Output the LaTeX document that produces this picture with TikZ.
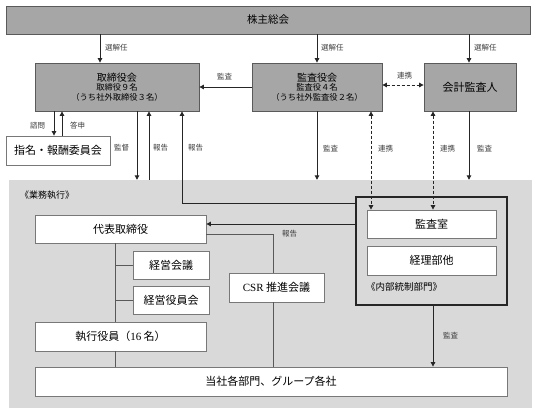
\documentclass[tikz,border=0pt]{standalone}
\usepackage{fontspec}
\setmainfont{Noto Sans CJK JP}
\newfontfamily\latinserif{Liberation Serif}
\usetikzlibrary{arrows.meta}
\definecolor{boxgray}{RGB}{166,166,166}
\definecolor{areagray}{RGB}{217,217,217}
\definecolor{edgegray}{RGB}{90,90,90}
\definecolor{wedge}{RGB}{120,120,120}
\definecolor{lblcol}{RGB}{60,60,60}
\begin{document}
\begin{tikzpicture}[x=1pt,y=-1pt,
  gbox/.style={draw=edgegray, fill=boxgray, inner sep=0pt, line width=0.8pt, align=center},
  wbox/.style={draw=wedge, fill=white, inner sep=0pt, line width=0.8pt, align=center, font=\fontsize{11}{13}\selectfont},
  areabox/.style={fill=areagray, draw=none, inner sep=0pt},
  ctrlbox/.style={draw=black!85, line width=1.1pt, inner sep=0pt},
  arr/.style={-{Triangle[length=4.5pt,width=4.5pt]}, line width=0.9pt, draw=black!85},
  darr/.style={{Triangle[length=4.5pt,width=4.5pt]}-{Triangle[length=4.5pt,width=4.5pt]}, line width=0.9pt, draw=black!85, dash pattern=on 3pt off 2pt},
  plain/.style={line width=0.8pt, draw=black!65},
  lbl/.style={font=\fontsize{7.5}{9}\selectfont, text=lblcol, inner sep=0pt, anchor=west}
]
\useasboundingbox (0,0) rectangle (536,415);
\fill[white] (0,0) rectangle (536,415);
% execution area
\node[areabox, minimum width=523pt, minimum height=228pt] (area) at (270.5,294) {};
\node[anchor=west, inner sep=0pt, font=\fontsize{9}{11}\selectfont] (gyomu) at (20,195) {《業務執行》};

% top boxes
\node[gbox, minimum width=524pt, minimum height=28pt, font=\fontsize{10.5}{12}\selectfont] (kabu) at (268,20) {株主総会};
\node[gbox, minimum width=164pt, minimum height=48pt, font=\fontsize{8.3}{9.8}\selectfont] (tori) at (117,87)
  {{\fontsize{10}{10}\selectfont 取締役会}\\取締役９名\\（うち社外取締役３名）};
\node[gbox, minimum width=130pt, minimum height=48pt, font=\fontsize{8.3}{9.8}\selectfont] (kansa) at (317,87)
  {{\fontsize{10}{10}\selectfont 監査役会}\\監査役４名\\（うち社外監査役２名）};
\node[gbox, minimum width=92pt, minimum height=48pt, font=\fontsize{11}{13}\selectfont] (kaikei) at (470,87) {会計監査人};
\node[wbox, minimum width=104pt, minimum height=29pt] (shimei) at (58,150.5) {指名・報酬委員会};

% execution boxes
\node[wbox, minimum width=171pt, minimum height=28pt] (daihyo) at (120.5,229) {代表取締役};
\node[wbox, minimum width=76pt, minimum height=28pt] (keiei) at (171,265) {経営会議};
\node[wbox, minimum width=76pt, minimum height=28pt] (yakuin) at (171,300) {経営役員会};
\node[wbox, minimum width=171pt, minimum height=29pt] (shikko) at (120.5,336.5) {執行役員（{\latinserif 16} 名）};
\node[wbox, minimum width=472pt, minimum height=29pt] (tosha) at (271,381.5) {当社各部門、グループ各社};
\node[wbox, minimum width=95pt, minimum height=29pt] (csr) at (276.5,287.5) {{\latinserif CSR} 推進会議};

% internal control
\node[ctrlbox, minimum width=151pt, minimum height=108pt] (naibu) at (431.5,251) {};
\node[wbox, minimum width=129pt, minimum height=28pt] (kansashitsu) at (431.5,224) {監査室};
\node[wbox, minimum width=129pt, minimum height=29pt] (keiri) at (431.5,260.5) {経理部他};
\node[anchor=west, inner sep=0pt, font=\fontsize{9.5}{11}\selectfont] (naibulbl) at (366,287) {《内部統制部門》};

% election arrows
\draw[arr] (100,0 |- kabu.south) -- (100,0 |- tori.north);
\node[lbl] at (105,48) {選解任};
\draw[arr] (317,0 |- kabu.south) -- (317,0 |- kansa.north);
\node[lbl] at (321,48) {選解任};
\draw[arr] (469,0 |- kabu.south) -- (469,0 |- kaikei.north);
\node[lbl] at (474,48) {選解任};

% audit between boards
\draw[arr] (kansa.west) -- (tori.east);
\node[lbl] at (217,77) {監査};
\draw[darr] (kansa.east |- 0,85) -- (kaikei.west |- 0,85);
\node[lbl] at (397,76) {連携};

% nomination committee
\draw[arr] (54,0 |- tori.south) -- (54,0 |- shimei.north);
\draw[arr] (62,0 |- shimei.north) -- (62,0 |- tori.south);
\node[lbl] at (30,126) {諮問};
\node[lbl] at (70,126) {答申};

% board <-> execution
\draw[arr] (137,0 |- tori.south) -- (137,0 |- area.north);
\node[lbl] at (114,148) {監督};
\draw[arr] (149,0 |- area.north) -- (149,0 |- tori.south);
\node[lbl] at (153,148) {報告};
\draw[arr] (naibu.west |- 0,203) -| (182,0 |- tori.south);
\node[lbl] at (188,148) {報告};

% auditors -> execution
\draw[arr] (317,0 |- kansa.south) -- (317,0 |- area.north);
\node[lbl] at (323,149) {監査};
\draw[arr] (469,0 |- kaikei.south) -- (469,0 |- area.north);
\node[lbl] at (477,149) {監査};
\draw[darr] (371,0 |- kansa.south) -- (371,0 |- kansashitsu.north);
\node[lbl] at (378,149) {連携};
\draw[darr] (433,0 |- kaikei.south) -- (433,0 |- kansashitsu.north);
\node[lbl] at (440,149) {連携};

% internal control -> representative director
\draw[arr] (naibu.west |- 0,224) -- (daihyo.east |- 0,224);
% CSR report line
\draw[plain] (daihyo.east |- 0,234) -| (273,0 |- csr.north);
\draw[plain] (273,0 |- csr.south) -- (273,0 |- tosha.north);
\node[lbl] at (282,234) {報告};

% executive spine
\draw[plain] (115,0 |- daihyo.south) -- (115,0 |- shikko.north);
\draw[plain] (115,0 |- keiei.west) -- (keiei.west);
\draw[plain] (115,0 |- yakuin.west) -- (yakuin.west);
\draw[plain] (115,0 |- shikko.south) -- (115,0 |- tosha.north);

% internal audit
\draw[arr] (433,0 |- naibu.south) -- (433,0 |- tosha.north);
\node[lbl] at (443,336) {監査};
\end{tikzpicture}
\end{document}
